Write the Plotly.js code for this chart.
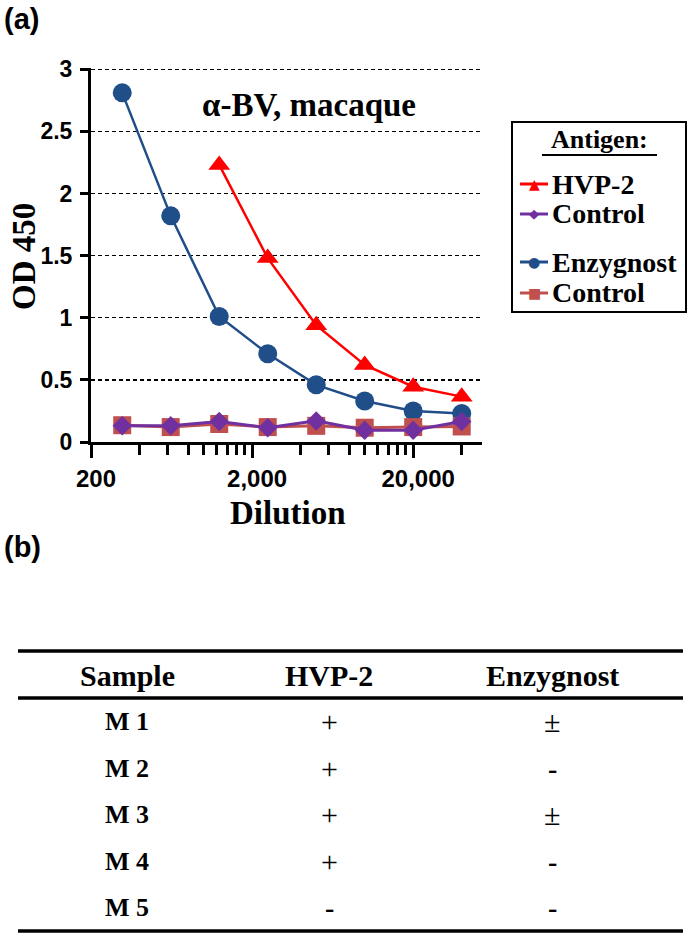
<!DOCTYPE html>
<html>
<head>
<meta charset="utf-8">
<script src="https://cdn.plot.ly/plotly-3.0.1.min.js"></script>
<style>
html,body{margin:0;padding:0;background:#fff;}
#chart{width:692px;height:938px;}
</style>
</head>
<body>
<div id="chart"></div>
<script>
// ---- data ----
const dilution = [312.5, 625, 1250, 2500, 5000, 10000, 20000, 40000];
const enzygnost = [2.81, 1.82, 1.01, 0.71, 0.46, 0.33, 0.25, 0.23];
const enzControl = [0.135, 0.12, 0.145, 0.12, 0.13, 0.115, 0.12, 0.125];
const hvpControl = [0.13, 0.13, 0.165, 0.115, 0.17, 0.095, 0.095, 0.165];
const hvpDilution = [1250, 2500, 5000, 10000, 20000, 40000];
const hvp2 = [2.23, 1.48, 0.94, 0.62, 0.445, 0.365];

const xTickVals = [200, 2000, 20000];
const xTickText = ['200', '2,000', '20,000'];
const xMinorVals = [400, 600, 800, 1000, 1200, 1400, 1600, 1800,
                    4000, 6000, 8000, 10000, 12000, 14000, 16000, 18000, 40000];
const yTickVals = [0, 0.5, 1, 1.5, 2, 2.5, 3];
const yTickText = ['0', '0.5', '1', '1.5', '2', '2.5', '3'];

const legendTitle = 'Antigen:';
const legendNames = ['HVP-2', 'Control', 'Enzygnost', 'Control'];
const legendColors = ['#FF0000', '#7030A0', '#1F4E88', '#C0504D'];
const legendGlyphs = ['▲', '◆', '●', '■'];

const tableHeader = ['Sample', 'HVP-2', 'Enzygnost'];
const samples = ['M 1', 'M 2', 'M 3', 'M 4', 'M 5'];
const hvpResult = ['+', '+', '+', '+', '-'];
const enzResult = ['±', '-', '±', '-', '-'];

// ---- helpers (pixel -> paper) ----
const W = 692, H = 938;
const px = x => x / W;
const py = y => 1 - y / H;
const SERIF = 'Liberation Serif, Times New Roman, serif';
const SANS = 'Liberation Sans, Arial, sans-serif';
const SYM = 'DejaVu Sans, sans-serif';

const traces = [
  {x: dilution, y: enzygnost, name: 'Enzygnost', mode: 'lines+markers',
   line: {color: legendColors[2], width: 2.5}, marker: {symbol: 'circle', size: 19, color: legendColors[2]}, cliponaxis: false},
  {x: hvpDilution, y: hvp2, name: 'HVP-2', mode: 'lines+markers',
   line: {color: legendColors[0], width: 2.5}, marker: {symbol: 'triangle-up', size: 19, color: legendColors[0]}, cliponaxis: false},
  {x: dilution, y: enzControl, name: 'Control (Enzygnost)', mode: 'lines+markers',
   line: {color: legendColors[3], width: 3}, marker: {symbol: 'square', size: 18, color: legendColors[3]}, cliponaxis: false},
  {x: dilution, y: hvpControl, name: 'Control (HVP-2)', mode: 'lines+markers',
   line: {color: legendColors[1], width: 3}, marker: {symbol: 'diamond', size: 15, color: legendColors[1]}, cliponaxis: false}
];

const annotations = [
  {text: '(a)', x: px(2), y: py(19), xanchor: 'left', yanchor: 'middle', font: {family: SANS, size: 29, weight: 'bold', color: '#000'}},
  {text: '(b)', x: px(2), y: py(547), xanchor: 'left', yanchor: 'middle', font: {family: SANS, size: 29, weight: 'bold', color: '#000'}},
  {text: 'α-BV, macaque', x: px(309), y: py(105), xanchor: 'center', yanchor: 'middle', font: {family: SERIF, size: 33, weight: 'bold', color: '#000'}},
  {text: 'Dilution', x: px(288), y: py(513), xanchor: 'center', yanchor: 'middle', font: {family: SERIF, size: 33, weight: 'bold', color: '#000'}},
  {text: 'OD 450', x: px(24), y: py(256), xanchor: 'center', yanchor: 'middle', textangle: -90, font: {family: SERIF, size: 33, weight: 'bold', color: '#000'}},
  {text: legendTitle, x: px(599), y: py(139), xanchor: 'center', yanchor: 'middle', font: {family: SERIF, size: 26, weight: 'bold', color: '#000'}}
];

// legend entries
const legY = [184, 214, 262, 293];
const shapes = [];
const hline = (y, x0, x1, w, c) => ({type: 'line', xref: 'paper', yref: 'paper', x0: px(x0), x1: px(x1), y0: py(y), y1: py(y), line: {color: c || '#000', width: w}});
shapes.push({type: 'rect', xref: 'paper', yref: 'paper', x0: px(512), x1: px(686), y0: py(312), y1: py(122), line: {color: '#000', width: 2}, fillcolor: 'rgba(0,0,0,0)'});
shapes.push(hline(155, 542, 657, 2));
legendNames.forEach((n, i) => {
  shapes.push(hline(legY[i], 520, 548, 3, legendColors[i]));
  annotations.push({text: legendGlyphs[i], x: px(534), y: py(legY[i]), xanchor: 'center', yanchor: 'middle',
    font: {family: SYM, size: i === 1 ? 13 : 14, color: legendColors[i]}});
  annotations.push({text: n, x: px(550), y: py(legY[i]), xanchor: 'left', yanchor: 'middle',
    font: {family: SERIF, size: 28, weight: 'bold', color: '#000'}});
});

// table
const colX = [127, 329, 552];
tableHeader.forEach((t, i) => annotations.push({text: t, x: px(colX[i]), y: py(675), xanchor: 'center', yanchor: 'middle',
  font: {family: SERIF, size: 30, weight: 'bold', color: '#000'}}));
const rowY = [721, 768, 814, 861, 907];
const cellFont = s => (s === '-') ? {family: SERIF, size: 28, weight: 'bold', color: '#000'} : {family: SERIF, size: 30, weight: 'normal', color: '#000'};
samples.forEach((s, i) => {
  annotations.push({text: s, x: px(colX[0]), y: py(rowY[i]), xanchor: 'center', yanchor: 'middle', font: {family: SERIF, size: 26, weight: 'bold', color: '#000'}});
  annotations.push({text: hvpResult[i], x: px(colX[1]), y: py(rowY[i]), xanchor: 'center', yanchor: 'middle', font: cellFont(hvpResult[i])});
  annotations.push({text: enzResult[i], x: px(colX[2]), y: py(rowY[i]), xanchor: 'center', yanchor: 'middle', font: cellFont(enzResult[i])});
});
annotations.forEach(a => { a.xref = 'paper'; a.yref = 'paper'; a.showarrow = false; });

shapes.push(hline(651, 18, 683, 3.5));
shapes.push(hline(698, 18, 683, 3.5));
shapes.push(hline(931, 18, 683, 3.5));

const layout = {
  width: W, height: H,
  margin: {l: 0, r: 0, t: 0, b: 0, pad: 0},
  paper_bgcolor: '#fff', plot_bgcolor: '#fff',
  showlegend: false,
  xaxis: {
    type: 'log', domain: [px(91), px(482)], range: [Math.log10(200), 4.728],
    tickmode: 'array', tickvals: xTickVals, ticktext: xTickText,
    ticks: 'outside', ticklen: 13, tickwidth: 3, tickcolor: '#000', ticklabelshift: 5,
    minor: {tickmode: 'array', tickvals: xMinorVals, ticks: 'outside', ticklen: 10, tickwidth: 3, tickcolor: '#000', showgrid: false},
    showline: true, linewidth: 3, linecolor: '#000', showgrid: false, zeroline: false,
    tickfont: {family: SANS, size: 24, weight: 'bold', color: '#000'}, fixedrange: true
  },
  yaxis: {
    domain: [py(442), py(68)], range: [0, 3.01],
    tickmode: 'array', tickvals: yTickVals, ticktext: yTickText,
    ticks: 'outside', ticklen: 8, tickwidth: 3, tickcolor: '#000', ticklabelstandoff: 3,
    showline: true, linewidth: 3, linecolor: '#000',
    showgrid: true, gridcolor: '#000', gridwidth: 1.3, griddash: '4px,3px', zeroline: false,
    tickfont: {family: SANS, size: 23, weight: 'bold', color: '#000'}, fixedrange: true
  },
  annotations: annotations,
  shapes: shapes
};

Plotly.newPlot('chart', traces, layout, {displayModeBar: false, staticPlot: true});
</script>
</body>
</html>
